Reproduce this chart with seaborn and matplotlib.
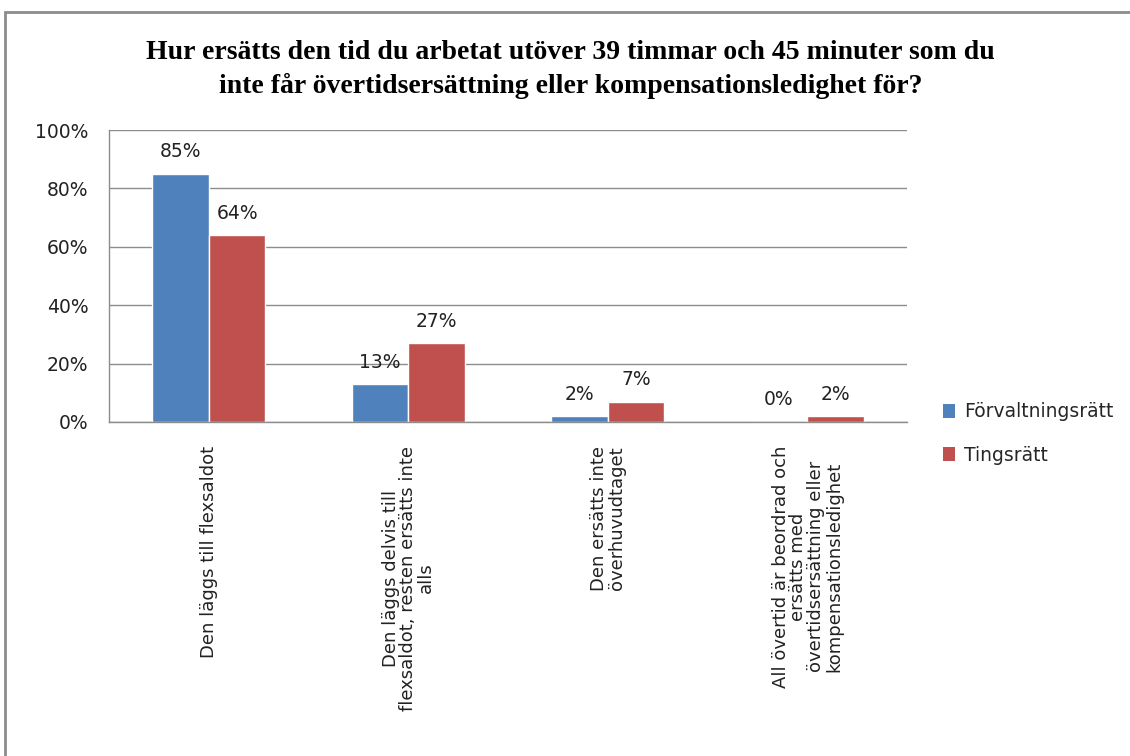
import numpy as np
import pandas as pd
import matplotlib
matplotlib.use("Agg")
import matplotlib.pyplot as plt
import seaborn as sns
from matplotlib.patches import Rectangle, Patch

# Data
categories = [
    "Den läggs till flexsaldot",
    "Den läggs delvis till\nflexsaldot, resten ersätts inte\nalls",
    "Den ersätts inte\növerhuvudtaget",
    "All övertid är beordrad och\nersätts med\növertidsersättning eller\nkompensationsledighet",
]
series = ["Förvaltningsrätt", "Tingsrätt"]
forvaltning = [85, 13, 2, 0]
tingsratt = [64, 27, 7, 2]
yticks = [0, 20, 40, 60, 80, 100]
colors = ["#4F81BD", "#C0504D"]

df = pd.DataFrame({
    "kategori": categories * 2,
    "serie": [series[0]] * 4 + [series[1]] * 4,
    "andel": forvaltning + tingsratt,
})

sns.set_style("white")
plt.rcParams["font.family"] = ["DejaVu Sans"]
fs = 13.5
txt = "#222222"

fig = plt.figure(figsize=(11.3, 7.56), dpi=100)
ax = fig.add_axes([0.0965, 0.4418, 0.7062, 0.3862])

sns.barplot(data=df, x="kategori", y="andel", hue="serie", palette=colors,
            width=0.567, saturation=1, ax=ax, legend=False)

ax.set_ylim(0, 100)
ax.set_xlim(-0.5, 3.5)
ax.set_yticks(yticks)
ax.set_yticklabels([f"{t}%" for t in yticks], fontsize=fs, color=txt)
ax.yaxis.grid(True, color="#8c8c8c", linewidth=1)
ax.set_axisbelow(True)
ax.set_xlabel("")
ax.set_ylabel("")
for s in ["top", "right"]:
    ax.spines[s].set_visible(False)
for s in ["left", "bottom"]:
    ax.spines[s].set_color("#8c8c8c")
    ax.spines[s].set_linewidth(1)
ax.tick_params(axis="y", length=0, pad=15)
ax.tick_params(axis="x", length=0, pad=17)
ax.set_xticks(range(len(categories)))
ax.set_xticklabels(categories, rotation=90, fontsize=13, color=txt,
                   va="top", ha="center", multialignment="center",
                   linespacing=0.98)

# value labels
for cont in ax.containers:
    ax.bar_label(cont, labels=[f"{v:.0f}%" for v in cont.datavalues],
                 padding=9, fontsize=fs, color=txt)

fig.suptitle("Hur ersätts den tid du arbetat utöver 39 timmar och 45 minuter som du\n"
             "inte får övertidsersättning eller kompensationsledighet för?",
             x=0.505, y=0.947, fontsize=20, fontweight="bold", color="black",
             family="Liberation Serif", linespacing=1.38)

handles = [Patch(facecolor=c, edgecolor="none") for c in colors]
fig.legend(handles, series, loc="upper left", bbox_to_anchor=(0.82, 0.49),
           frameon=False, fontsize=fs, handlelength=0.6, handleheight=0.8,
           handletextpad=0.5, labelspacing=1.3)

fig.patches.append(Rectangle((0.004, -0.01), 1.0, 0.994, transform=fig.transFigure,
                             fill=False, edgecolor="#8c8c8c", linewidth=2))

fig.savefig("out.png", dpi=100)
